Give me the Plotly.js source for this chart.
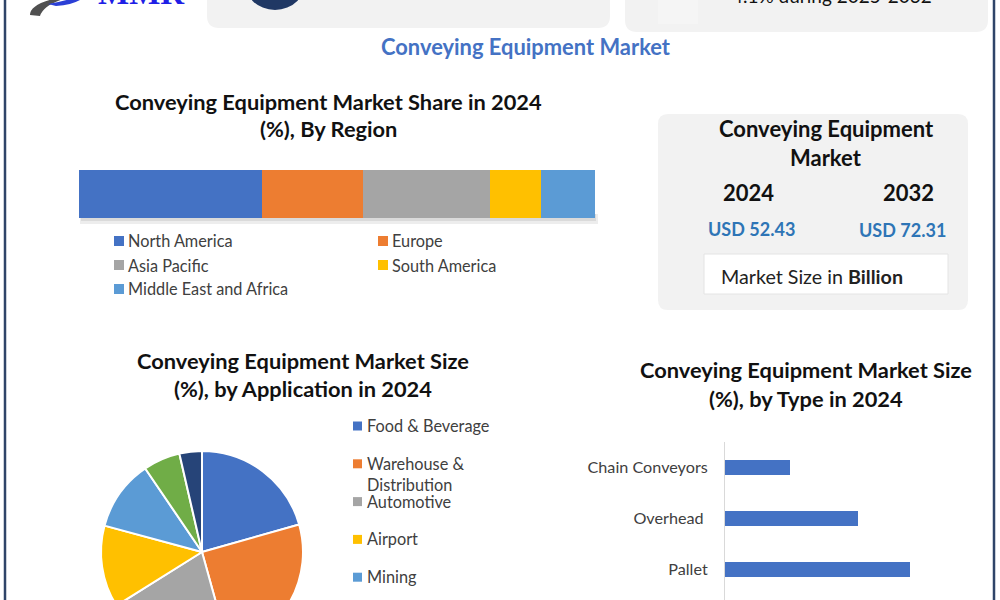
<!DOCTYPE html>
<html>
<head>
<meta charset="utf-8">
<script src="https://cdn.plot.ly/plotly-3.0.1.min.js"></script>
<style>
  html, body { margin: 0; padding: 0; overflow: hidden; background: #ffffff; width: 1000px; height: 600px; }
  #chart { position: absolute; left: 0; top: -60px; width: 1000px; height: 740px; }
</style>
</head>
<body>
<div id="chart"></div>
<script>
// ---------------- data ----------------
const regions = ['North America', 'Europe', 'Asia Pacific', 'South America', 'Middle East and Africa'];
const regionShare = [35.4, 19.6, 24.6, 9.9, 10.5];
const regionColors = ['#4472C4', '#ED7D31', '#A5A5A5', '#FFC000', '#5B9BD5'];

const applications = ['Food & Beverage', 'Warehouse & Distribution', 'Automotive', 'Airport', 'Mining', 'Packaging', 'Others'];
const applicationLegend = ['Food & Beverage', 'Warehouse &<br>Distribution', 'Automotive', 'Airport', 'Mining', 'Packaging', 'Others'];
const applicationShare = [20.6, 25.1, 20.4, 13.1, 11.3, 5.9, 3.6];
const applicationColors = ['#4472C4', '#ED7D31', '#A5A5A5', '#FFC000', '#5B9BD5', '#70AD47', '#264478'];

const types = ['Chain Conveyors', 'Overhead ', 'Pallet'];
const typeShare = [13, 26.5, 37];

const marketYears = ['2024', '2032'];
const marketValues = [52.43, 72.31];

// ---------------- helpers (page pixel -> paper) ----------------
const OFF = 60, H = 740, W = 1000;
const X = px => px / W;
const Y = py => 1 - (py + OFF) / H;
const P = (px, py) => X(px).toFixed(5) + ',' + Y(py).toFixed(5);
function rrect(x0, y0, x1, y1, r) {
  return 'M' + P(x0 + r, y0) + ' L' + P(x1 - r, y0) + ' Q' + P(x1, y0) + ' ' + P(x1, y0 + r) +
    ' L' + P(x1, y1 - r) + ' Q' + P(x1, y1) + ' ' + P(x1 - r, y1) +
    ' L' + P(x0 + r, y1) + ' Q' + P(x0, y1) + ' ' + P(x0, y1 - r) +
    ' L' + P(x0, y0 + r) + ' Q' + P(x0, y0) + ' ' + P(x0 + r, y0) + ' Z';
}
const FONT = 'Lato, "Open Sans", sans-serif';
const txt = (text, px, py, opts = {}) => Object.assign({
  text: text, xref: 'paper', yref: 'paper', x: X(px), y: Y(py),
  xanchor: 'center', yanchor: 'middle', showarrow: false,
  font: { family: FONT, size: 16.3, color: '#404040' }
}, opts);

// ---------------- traces ----------------
const traces = [];
regions.forEach((r, i) => {
  traces.push({
    type: 'bar', orientation: 'h', name: r,
    x: [regionShare[i]], y: ['2024'],
    xaxis: 'x', yaxis: 'y', width: 1,
    marker: { color: regionColors[i], line: { width: 0 } },
    hovertemplate: r + ': %{x}%<extra></extra>'
  });
});
traces.push({
  type: 'pie', labels: applications, values: applicationShare,
  marker: { colors: applicationColors, line: { color: '#ffffff', width: 2 } },
  sort: false, direction: 'clockwise', rotation: 0, textinfo: 'none',
  domain: { x: [X(101), X(303)], y: [Y(653), Y(451)] },
  hovertemplate: '%{label}: %{value}%<extra></extra>'
});
traces.push({
  type: 'bar', orientation: 'h', x: typeShare, y: types,
  xaxis: 'x2', yaxis: 'y2', width: 0.3,
  marker: { color: '#4472C4' },
  hovertemplate: '%{y}: %{x}%<extra></extra>'
});

// ---------------- shapes ----------------
const shapes = [
  // top banner cards (cropped)
  { type: 'path', xref: 'paper', yref: 'paper', path: rrect(207, -50, 610, 28, 12), fillcolor: '#f2f2f2', line: { width: 0 }, layer: 'below' },
  { type: 'path', xref: 'paper', yref: 'paper', path: rrect(625, -50, 988, 32, 12), fillcolor: '#f2f2f2', line: { width: 0 }, layer: 'below' },
  { type: 'rect', xref: 'paper', yref: 'paper', x0: X(658), x1: X(698), y0: Y(24), y1: Y(-10), fillcolor: '#f5f5f5', line: { width: 0 }, layer: 'below' },
  { type: 'circle', xref: 'paper', yref: 'paper', x0: X(243), x1: X(307), y0: Y(10), y1: Y(-54), fillcolor: '#203864', line: { width: 0 } },
  // logo swoosh
  { type: 'path', xref: 'paper', yref: 'paper', path: 'M' + P(30, 15) + ' Q' + P(30, 0) + ' ' + P(82, -6) + ' Q' + P(44, 2) + ' ' + P(40, 16) + ' Z', fillcolor: '#505050', line: { width: 0 } },
  { type: 'path', xref: 'paper', yref: 'paper', path: 'M' + P(48, 4) + ' Q' + P(72, 0) + ' ' + P(88, -8) + ' Q' + P(82, 4) + ' ' + P(56, 6) + ' Z', fillcolor: '#2b3fd6', line: { width: 0 } },
  // market size card
  { type: 'path', xref: 'paper', yref: 'paper', path: rrect(658, 114, 968, 310, 10), fillcolor: '#f2f2f2', line: { width: 0 }, layer: 'below' },
  { type: 'rect', xref: 'paper', yref: 'paper', x0: X(704), x1: X(948), y0: Y(294), y1: Y(254), fillcolor: '#ffffff', line: { color: '#e4e4e4', width: 1 }, layer: 'below' },
  // region bar shadow
  { type: 'rect', xref: 'paper', yref: 'paper', x0: X(80), x1: X(598), y0: Y(224), y1: Y(214), fillcolor: 'rgba(0,0,0,0.07)', line: { width: 0 }, layer: 'below' },
  { type: 'rect', xref: 'paper', yref: 'paper', x0: X(81), x1: X(596), y0: Y(221), y1: Y(214), fillcolor: 'rgba(0,0,0,0.08)', line: { width: 0 }, layer: 'below' },
  // frame borders
  { type: 'line', xref: 'paper', yref: 'paper', x0: X(5), x1: X(5), y0: 0, y1: 1, line: { color: '#2f4468', width: 2.5 } },
  { type: 'line', xref: 'paper', yref: 'paper', x0: X(994), x1: X(994), y0: 0, y1: 1, line: { color: '#2f4468', width: 2.5 } }
];

// ---------------- annotations ----------------
const BOLD = { family: FONT, size: 21.8, color: '#111111', weight: 'bold' };
const annotations = [
  txt('MMR', 141, -7, { font: { family: '"Liberation Serif", serif', size: 33, color: '#1f1fe6', weight: 'bold' } }),
  txt('4.1% during 2025-2032', 832, -5, { font: { family: FONT, size: 19, color: '#111111' } }),
  txt('Conveying Equipment Market', 526, 47, { font: { family: FONT, size: 21.9, color: '#4472C4', weight: 'bold' } }),
  txt('Conveying Equipment Market Share in 2024', 328, 101, { font: BOLD }),
  txt('(%), By Region', 328, 129, { font: BOLD }),
  txt('Conveying Equipment Market Size', 303, 360, { font: BOLD }),
  txt('(%), by Application in 2024', 303, 388, { font: BOLD }),
  txt('Conveying Equipment Market Size', 806, 370, { font: BOLD }),
  txt('(%), by Type in 2024', 806, 398, { font: BOLD }),
  txt('Conveying Equipment', 826, 129, { font: Object.assign({}, BOLD, { size: 22 }) }),
  txt('Market', 826, 157, { font: Object.assign({}, BOLD, { size: 22 }) }),
  txt(marketYears[0], 748, 192, { font: Object.assign({}, BOLD, { size: 22 }) }),
  txt(marketYears[1], 908, 193, { font: Object.assign({}, BOLD, { size: 22 }) }),
  txt('USD ' + marketValues[0].toFixed(2), 751, 229, { font: { family: FONT, size: 18, color: '#2E75B6', weight: 'bold' } }),
  txt('USD ' + marketValues[1].toFixed(2), 902, 230, { font: { family: FONT, size: 18, color: '#2E75B6', weight: 'bold' } }),
  txt('Market Size in <b>Billion</b>', 719, 276, { xanchor: 'left', font: { family: FONT, size: 19.7, color: '#222222' } })
];

// region legend (2 columns)
regions.forEach((r, i) => {
  const col = i % 2, row = Math.floor(i / 2);
  const sx = col === 0 ? 114 : 378;
  const cy = 241 + row * 24;
  shapes.push({ type: 'rect', xref: 'paper', yref: 'paper', x0: X(sx), x1: X(sx + 10), y0: Y(cy + 5), y1: Y(cy - 5), fillcolor: regionColors[i], line: { width: 0 } });
  annotations.push(txt(r, sx + 12, cy, { xanchor: 'left' }));
});

// application legend (vertical list)
applications.forEach((a, i) => {
  const cy = 426 + i * 37.8;
  shapes.push({ type: 'rect', xref: 'paper', yref: 'paper', x0: X(353), x1: X(362), y0: Y(cy + 4.5), y1: Y(cy - 4.5), fillcolor: applicationColors[i], line: { width: 0 } });
  annotations.push(txt(applicationLegend[i], 365, cy - 12, { xanchor: 'left', yanchor: 'top', align: 'left' }));
});

const layout = {
  width: W, height: H,
  margin: { l: 0, r: 0, t: 0, b: 0 },
  paper_bgcolor: '#ffffff', plot_bgcolor: 'rgba(0,0,0,0)',
  showlegend: false, barmode: 'stack',
  font: { family: FONT },
  xaxis: { domain: [X(79), X(595)], range: [0, 100], visible: false, fixedrange: true },
  yaxis: { domain: [Y(218), Y(170)], type: 'category', range: [-0.5, 0.5], visible: false, fixedrange: true },
  xaxis2: { domain: [X(725), X(990)], range: [0, 53], visible: false, anchor: 'y2', fixedrange: true },
  yaxis2: {
    domain: [Y(646), Y(442)], anchor: 'x2', type: 'category', range: [3.5, -0.5],
    showline: true, linecolor: '#d9d9d9', linewidth: 1, showgrid: false, zeroline: false,
    ticks: '', ticklabelstandoff: 13, tickfont: { family: FONT, size: 16.2, color: '#404040' }, fixedrange: true
  },
  shapes: shapes,
  annotations: annotations
};

Plotly.newPlot('chart', traces, layout, { displayModeBar: false });
</script>
</body>
</html>
